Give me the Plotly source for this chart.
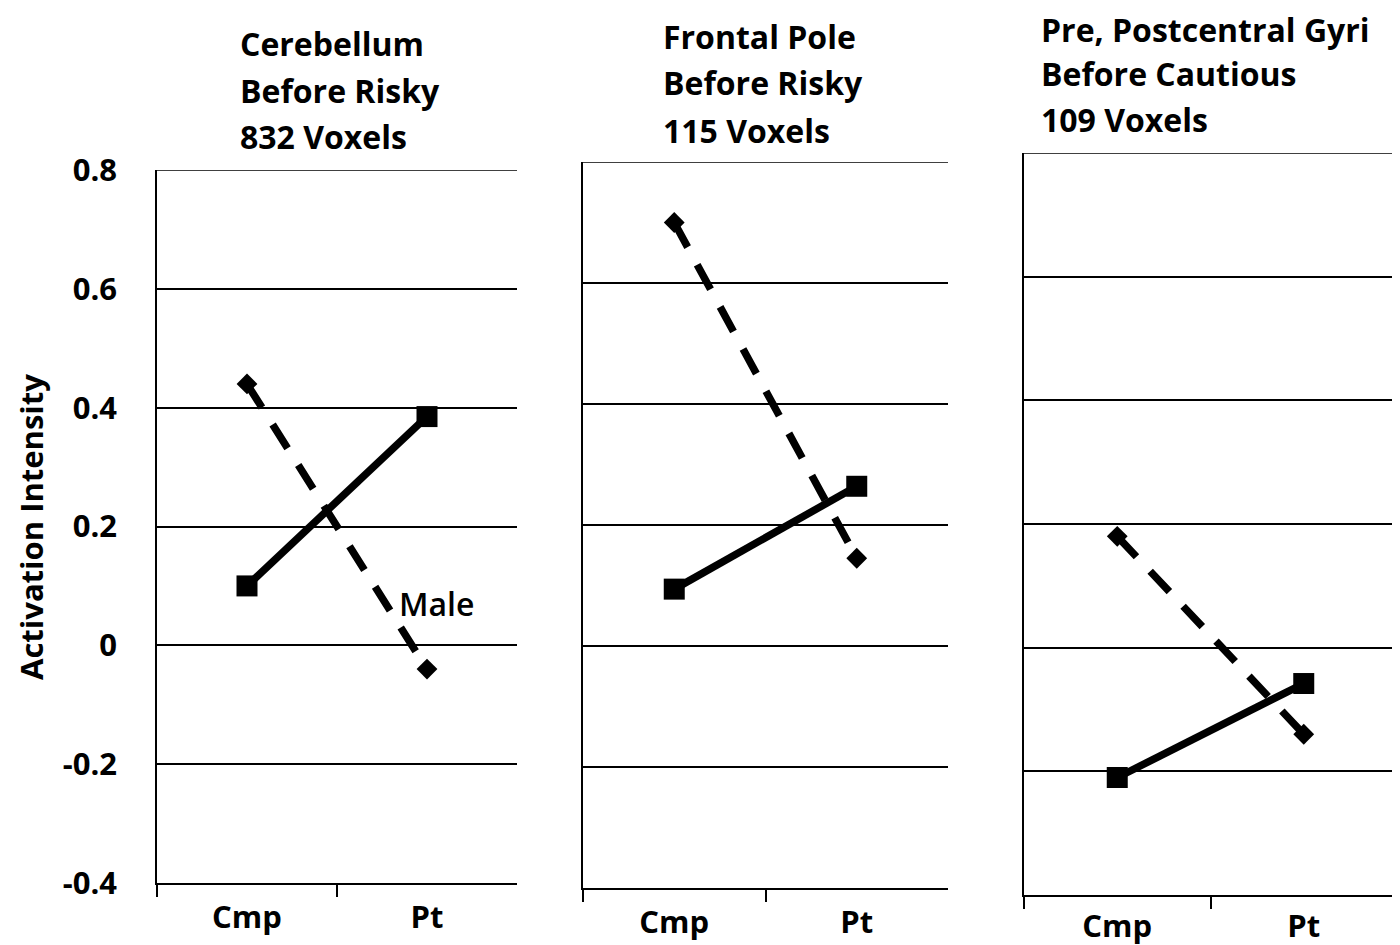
import plotly.graph_objects as go

W, H = 1400, 945
OFF = 8  # page body margin offset

categories = ["Cmp", "Pt"]
titles = [
    ["Cerebellum", "Before Risky", "832 Voxels"],
    ["Frontal Pole", "Before Risky", "115 Voxels"],
    ["Pre, Postcentral Gyri", "Before Cautious", "109 Voxels"],
]
male_values = [
    [0.44, -0.04],
    [0.70, 0.145],
    [0.18, -0.14],
]
other_values = [
    [0.10, 0.385],
    [0.094, 0.264],
    [-0.21, -0.058],
]
y_tickvals = [-0.4, -0.2, 0, 0.2, 0.4, 0.6, 0.8]
y_ticktext = ["-0.4", "-0.2", "0", "0.2", "0.4", "0.6", "0.8"]
y_top = 0.8

# panel pixel boxes: (left, right, top, bottom)
boxes = [(157, 517, 170, 883), (583, 948, 162, 888), (1024, 1397, 153, 895)]
title_pos = [(238, [44, 90, 137]), (661, [37, 83, 130]), (1039, [30, 74, 120])]
xlabel_standoff = [6, 6, 3]

FONT = "Open Sans"


def px(x):
    return (x - OFF) / W


def py(y):
    return 1 - (y - OFF) / H


fig = go.Figure()
layout = dict(
    width=W, height=H,
    margin=dict(l=0, r=0, t=0, b=0, autoexpand=False),
    paper_bgcolor="white", plot_bgcolor="white",
    showlegend=False,
    font=dict(family=FONT, color="black"),
)
annotations = []
shapes = []

for i in range(3):
    xa = "x" if i == 0 else f"x{i+1}"
    ya = "y" if i == 0 else f"y{i+1}"
    l, r, t, b = boxes[i]
    fig.add_trace(go.Scatter(
        x=categories, y=male_values[i], xaxis=xa, yaxis=ya, mode="lines+markers",
        line=dict(color="black", width=7.5, dash="28px,20px"),
        marker=dict(symbol="diamond", size=16, color="black"),
        name="Male", cliponaxis=False))
    fig.add_trace(go.Scatter(
        x=categories, y=other_values[i], xaxis=xa, yaxis=ya, mode="lines+markers",
        line=dict(color="black", width=7.5),
        marker=dict(symbol="square", size=21, color="black"),
        name="Female", cliponaxis=False))
    xkey = "xaxis" if i == 0 else f"xaxis{i+1}"
    ykey = "yaxis" if i == 0 else f"yaxis{i+1}"
    layout[xkey] = dict(
        domain=[px(l), px(r)], anchor=ya, type="category", automargin=False,
        tickson="boundaries", ticks="outside", ticklen=12, tickwidth=1.5,
        tickcolor="black", showline=True, linecolor="black", linewidth=1.5,
        showgrid=False, ticklabelstandoff=xlabel_standoff[i],
        tickfont=dict(family=FONT, size=31, color="black", weight="bold"),
        range=[-0.5, 1.5], fixedrange=True,
    )
    layout[ykey] = dict(
        domain=[py(b), py(t)], anchor=xa, range=[-0.4, 0.8], automargin=False,
        tickvals=y_tickvals, ticktext=y_ticktext,
        showticklabels=(i == 0), ticks="", ticklabelstandoff=32,
        showline=True, linecolor="black", linewidth=1.5,
        showgrid=True, gridcolor="black", gridwidth=1.5, zeroline=False,
        tickfont=dict(family=FONT, size=31, color="black", weight="bold"),
        fixedrange=True,
    )
    # top gridline (at the upper range limit)
    shapes.append(dict(
        type="line", xref=f"{xa} domain", yref=ya, x0=0, x1=1, y0=y_top, y1=y_top,
        line=dict(color="black", width=1.5), layer="below"))
    tx, tys = title_pos[i]
    for line, ty in zip(titles[i], tys):
        annotations.append(dict(
            text=line, x=px(tx), y=py(ty), xref="paper", yref="paper",
            xanchor="left", yanchor="middle", showarrow=False,
            font=dict(family=FONT, size=32, color="black", weight="bold")))

# y-axis title
annotations.append(dict(
    text="Activation Intensity", x=px(31), y=py(527), xref="paper", yref="paper",
    xanchor="center", yanchor="middle", showarrow=False, textangle=-90,
    font=dict(family=FONT, size=31, color="black", weight="bold")))

annotations.append(dict(
    text="Male", x=px(397), y=py(603), xref="paper", yref="paper",
    xanchor="left", yanchor="middle", showarrow=False,
    font=dict(family=FONT, size=32, color="black", weight=600)))

layout["annotations"] = annotations
layout["shapes"] = shapes
fig.update_layout(**layout)
fig.write_html("out.html")
